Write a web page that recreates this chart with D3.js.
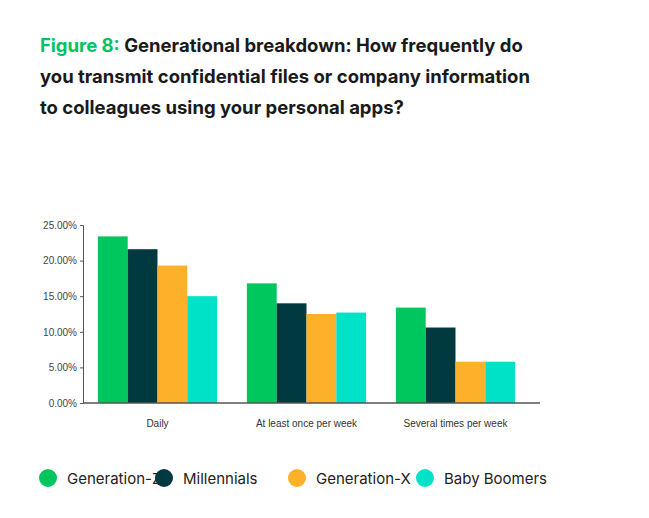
<!DOCTYPE html>
<html><head><meta charset="utf-8">
<script src="https://cdn.jsdelivr.net/npm/d3@7"></script>
<style>body{margin:0;background:#fff;font-family:Inter,"Noto Sans",sans-serif}</style>
</head><body><div id="chart"></div>
<script>
const categories = ['Daily', 'At least once per week', 'Several times per week'];
const seriesNames = ['Generation-Z', 'Millennials', 'Generation-X', 'Baby Boomers'];
const genZ = [23.4, 16.8, 13.4];
const millennials = [21.6, 14.0, 10.6];
const genX = [19.3, 12.5, 5.8];
const boomers = [15.0, 12.7, 5.8];
const ticks = [0, 5, 10, 15, 20, 25];
const colors = ['#00c65e', '#003a40', '#fdb12b', '#00e2c8'];

const values = [genZ, millennials, genX, boomers];
const svg = d3.select('#chart').append('svg').attr('width', 649).attr('height', 518);

const title = svg.append('text').attr('x', 40).attr('font-size', 18.5).attr('font-weight', 700).attr('fill', '#1a1a1a');
title.append('tspan').attr('x', 40).attr('y', 52).attr('fill', '#00c261').text('Figure 8: ');
title.append('tspan').text('Generational breakdown: How frequently do');
title.append('tspan').attr('x', 40).attr('y', 83).text('you transmit confidential files or company information');
title.append('tspan').attr('x', 40).attr('y', 114).text('to colleagues using your personal apps?');

const x = d3.scaleBand().domain(categories).range([83, 530]).paddingInner(0.2).paddingOuter(0.1);
const xs = d3.scaleBand().domain(seriesNames).range([0, x.bandwidth()]);
const y = d3.scaleLinear().domain([0, 25]).range([403, 225]);

const yAxis = svg.append('g').attr('transform', 'translate(83,0)')
  .call(d3.axisLeft(y).tickValues(ticks).tickFormat(d => d.toFixed(2) + '%').tickSize(3));
yAxis.selectAll('text').attr('font-size', 10).attr('fill', '#444');
yAxis.selectAll('line,path').attr('stroke', '#555');

seriesNames.forEach((s, i) => {
  svg.append('g').selectAll('rect').data(categories).join('rect')
    .attr('x', c => x(c) + xs(s)).attr('width', xs.bandwidth())
    .attr('y', (c, j) => y(values[i][j])).attr('height', (c, j) => y(0) - y(values[i][j]))
    .attr('fill', colors[i]);
});

const xAxis = svg.append('g').attr('transform', 'translate(0,403)')
  .call(d3.axisBottom(x).tickSize(0).tickPadding(17));
xAxis.select('path').attr('d', 'M83,0H540').attr('stroke', '#555').attr('stroke-width', 1.5);
xAxis.selectAll('text').attr('font-size', 10).attr('fill', '#333');

const lx = [48, 164, 297, 425];
seriesNames.forEach((s, i) => {
  svg.append('circle').attr('cx', lx[i]).attr('cy', 478).attr('r', 9).attr('fill', colors[i]);
  svg.append('text').attr('x', lx[i] + 19).attr('y', 483.5).attr('font-size', 15).attr('fill', '#222').text(s);
});
</script></body></html>
